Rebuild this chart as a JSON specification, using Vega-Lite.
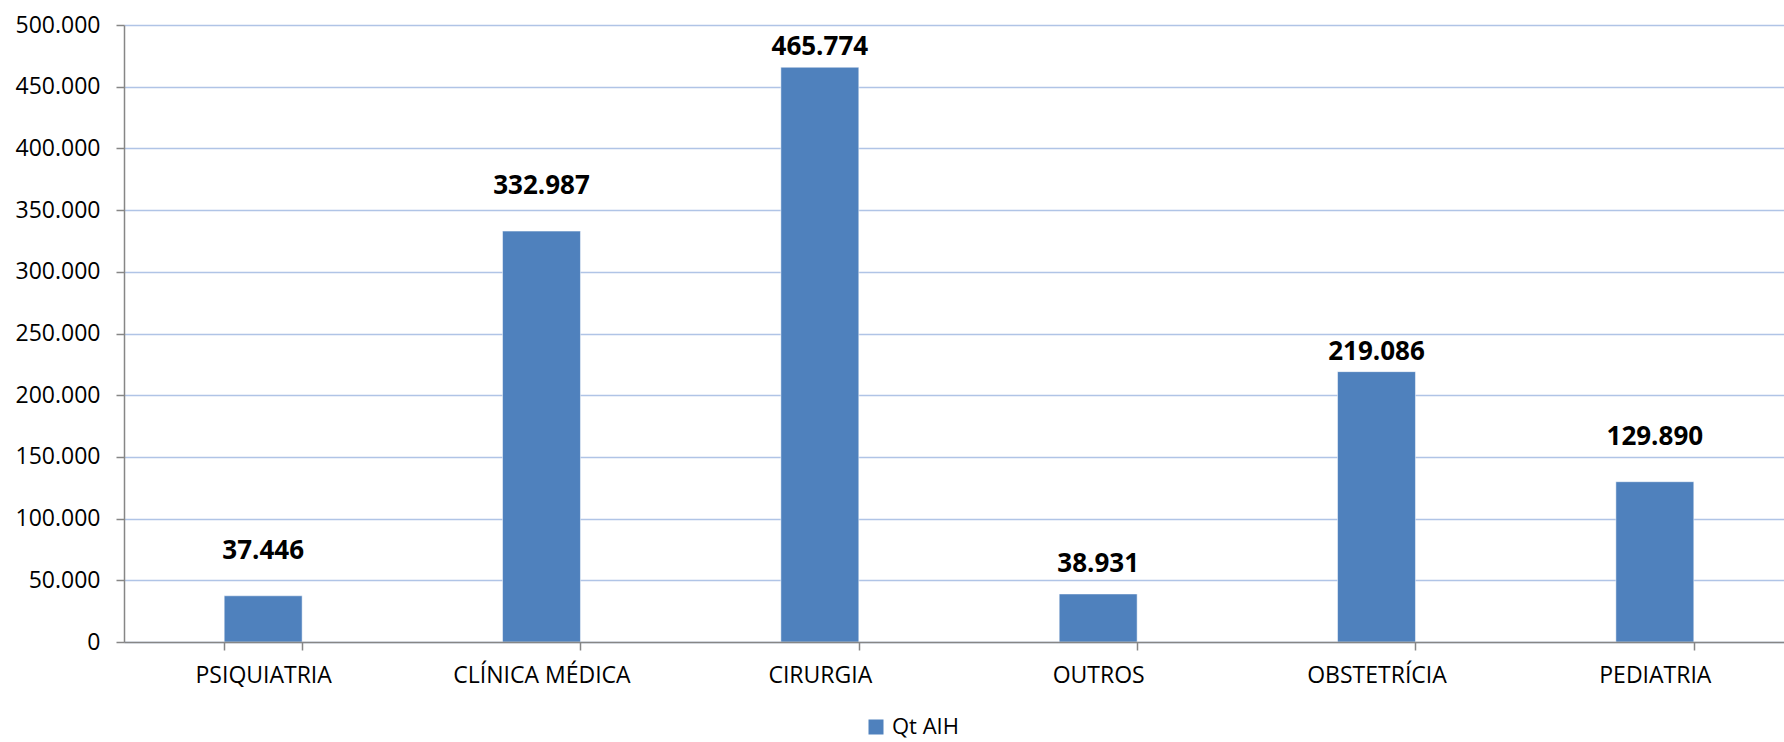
{
  "$schema": "https://vega.github.io/schema/vega-lite/v6.json",
  "autosize": {"type": "none"},
  "width": 1660,
  "height": 617,
  "padding": {"left": 124, "top": 25, "right": 0, "bottom": 100},
  "background": "white",
  "config": {
    "locale": {"number": {"decimal": ",", "thousands": ".", "grouping": [3], "currency": ["R$", ""]}},
    "view": {"stroke": null},
    "font": "Open Sans"
  },
  "data": {
    "values": [
      {"especialidade": "PSIQUIATRIA", "qt": 37446, "serie": "Qt AIH"},
      {"especialidade": "CLÍNICA MÉDICA", "qt": 332987, "serie": "Qt AIH"},
      {"especialidade": "CIRURGIA", "qt": 465774, "serie": "Qt AIH"},
      {"especialidade": "OUTROS", "qt": 38931, "serie": "Qt AIH"},
      {"especialidade": "OBSTETRÍCIA", "qt": 219086, "serie": "Qt AIH"},
      {"especialidade": "PEDIATRIA", "qt": 129890, "serie": "Qt AIH"}
    ]
  },
  "encoding": {
    "x": {
      "field": "especialidade",
      "type": "nominal",
      "sort": null,
      "scale": {"paddingInner": 0.72, "paddingOuter": 0.36, "range": [0, 1670]},
      "axis": {
        "title": null,
        "labelAngle": 0,
        "labelFont": "Open Sans",
        "labelFontSize": 23,
        "labelColor": "#000000",
        "labelPadding": 14,
        "tickBand": "extent",
        "tickSize": 8,
        "tickColor": "#868686",
        "tickWidth": 1.5,
        "domainColor": "#868686",
        "domainWidth": 1.5,
        "grid": false,
        "zindex": 1
      }
    },
    "y": {
      "field": "qt",
      "type": "quantitative",
      "scale": {"domain": [0, 500000], "nice": false},
      "axis": {
        "title": null,
        "values": [0, 50000, 100000, 150000, 200000, 250000, 300000, 350000, 400000, 450000, 500000],
        "format": ",d",
        "labelFont": "Open Sans",
        "labelFontSize": 23,
        "labelColor": "#000000",
        "labelPadding": 16,
        "tickSize": 8,
        "tickColor": "#868686",
        "tickWidth": 1.5,
        "domainColor": "#868686",
        "domainWidth": 1.5,
        "grid": true,
        "gridColor": "#B0C4E6",
        "gridWidth": 1.5
      }
    }
  },
  "layer": [
    {
      "mark": {"type": "bar", "stroke": "#ffffff", "strokeWidth": 0.5},
      "encoding": {
        "color": {
          "field": "serie",
          "type": "nominal",
          "scale": {"range": ["#4F81BD"]},
          "legend": {
            "title": null,
            "orient": "none",
            "legendX": 741,
            "legendY": 691,
            "padding": 0,
            "symbolType": "square",
            "symbolSize": 225,
            "symbolStrokeWidth": 0,
            "labelFont": "Open Sans",
            "labelFontSize": 22,
            "labelColor": "#000000",
            "labelOffset": 5
          }
        }
      }
    },
    {
      "transform": [{"filter": {"field": "especialidade", "oneOf": ["PSIQUIATRIA", "CLÍNICA MÉDICA", "PEDIATRIA"]}}],
      "mark": {"type": "text", "dy": -37, "baseline": "alphabetic", "font": "Open Sans", "fontSize": 26, "fontWeight": "bold", "color": "#000000"},
      "encoding": {"text": {"field": "qt", "type": "quantitative", "format": ",d"}}
    },
    {
      "transform": [{"filter": {"field": "especialidade", "oneOf": ["CIRURGIA", "OBSTETRÍCIA"]}}],
      "mark": {"type": "text", "dy": -12, "baseline": "alphabetic", "font": "Open Sans", "fontSize": 26, "fontWeight": "bold", "color": "#000000"},
      "encoding": {"text": {"field": "qt", "type": "quantitative", "format": ",d"}}
    },
    {
      "transform": [{"filter": {"field": "especialidade", "equal": "OUTROS"}}],
      "mark": {"type": "text", "dy": -22, "baseline": "alphabetic", "font": "Open Sans", "fontSize": 26, "fontWeight": "bold", "color": "#000000"},
      "encoding": {"text": {"field": "qt", "type": "quantitative", "format": ",d"}}
    }
  ]
}
